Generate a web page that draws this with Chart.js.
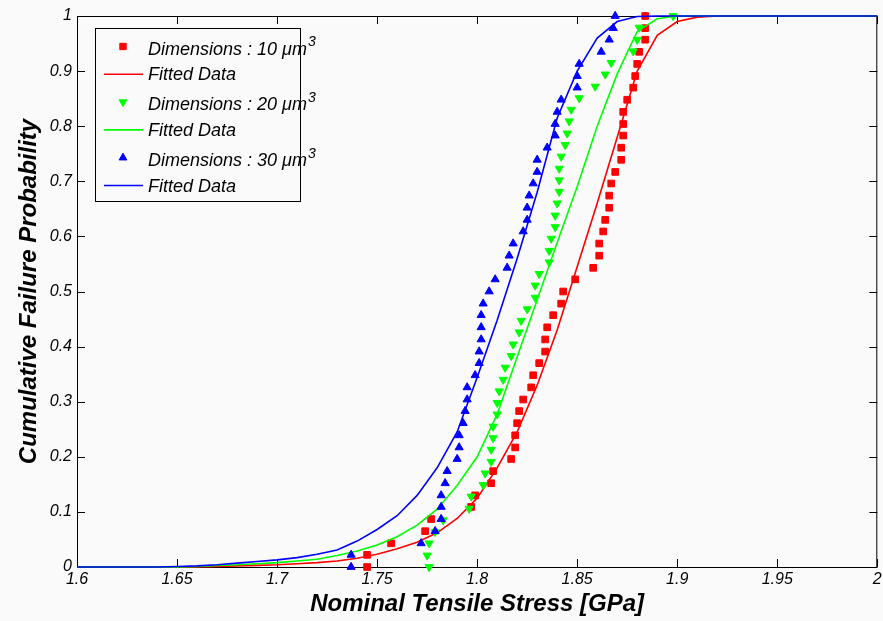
<!DOCTYPE html>
<html>
<head>
<meta charset="utf-8">
<script src="https://cdn.jsdelivr.net/npm/chart.js@4.4.1/dist/chart.umd.min.js"></script>
<style>
	html, body { margin: 0; padding: 0; background: #fafafa; }
	#wrap { width: 883px; height: 621px; }
</style>
</head>
<body>
<div id="wrap"><canvas id="chart" width="883" height="621"></canvas></div>
<script>
	// axis ticks
	const xTicks = [1.6, 1.65, 1.7, 1.75, 1.8, 1.85, 1.9, 1.95, 2];
	const xTickLabels = ["1.6", "1.65", "1.7", "1.75", "1.8", "1.85", "1.9", "1.95", "2"];
	const yTicks = [0, 0.1, 0.2, 0.3, 0.4, 0.5, 0.6, 0.7, 0.8, 0.9, 1];
	const yTickLabels = ["0", "0.1", "0.2", "0.3", "0.4", "0.5", "0.6", "0.7", "0.8", "0.9", "1"];

	// measured samples (stress in GPa)
	const stress10 = [1.745, 1.745, 1.757, 1.774, 1.777, 1.797, 1.799, 1.807, 1.808, 1.817,
		1.819, 1.819, 1.820, 1.821, 1.823, 1.827, 1.828, 1.831, 1.834, 1.834,
		1.835, 1.838, 1.842, 1.843, 1.849, 1.858, 1.861, 1.861, 1.863, 1.864,
		1.866, 1.866, 1.867, 1.869, 1.872, 1.872, 1.873, 1.873, 1.873, 1.875,
		1.878, 1.879, 1.880, 1.881, 1.884, 1.884, 1.884];
	const stress20 = [1.776, 1.775, 1.776, 1.779, 1.783, 1.796, 1.797, 1.803, 1.804, 1.807,
		1.807, 1.808, 1.808, 1.810, 1.810, 1.811, 1.813, 1.814, 1.817, 1.818,
		1.821, 1.822, 1.825, 1.829, 1.829, 1.831, 1.836, 1.836, 1.837, 1.839,
		1.839, 1.840, 1.841, 1.841, 1.841, 1.842, 1.844, 1.845, 1.846, 1.847,
		1.851, 1.859, 1.864, 1.867, 1.878, 1.880, 1.881, 1.898];
	const stress30 = [1.737, 1.737, 1.772, 1.779, 1.782, 1.782, 1.782, 1.784, 1.785, 1.790,
		1.791, 1.791, 1.793, 1.794, 1.795, 1.795, 1.799, 1.801, 1.801, 1.802,
		1.802, 1.802, 1.803, 1.806, 1.809, 1.815, 1.816, 1.818, 1.823, 1.825,
		1.825, 1.826, 1.828, 1.830, 1.830, 1.835, 1.839, 1.839, 1.840, 1.842,
		1.850, 1.850, 1.851, 1.862, 1.866, 1.868, 1.869];

	// cumulative probabilities of the samples
	const prob47 = [0, 0.022, 0.043, 0.065, 0.087, 0.109, 0.130, 0.152, 0.174, 0.196,
		0.217, 0.239, 0.261, 0.283, 0.304, 0.326, 0.348, 0.370, 0.391, 0.413,
		0.435, 0.457, 0.478, 0.500, 0.522, 0.543, 0.565, 0.587, 0.609, 0.630,
		0.652, 0.674, 0.696, 0.717, 0.739, 0.761, 0.783, 0.804, 0.826, 0.848,
		0.870, 0.891, 0.913, 0.935, 0.957, 0.978, 1];
	const prob48 = [0, 0.021, 0.043, 0.064, 0.085, 0.106, 0.128, 0.149, 0.170, 0.191,
		0.213, 0.234, 0.255, 0.277, 0.298, 0.319, 0.340, 0.362, 0.383, 0.404,
		0.426, 0.447, 0.468, 0.489, 0.511, 0.532, 0.553, 0.574, 0.596, 0.617,
		0.638, 0.660, 0.681, 0.702, 0.723, 0.745, 0.766, 0.787, 0.809, 0.830,
		0.851, 0.872, 0.894, 0.915, 0.936, 0.957, 0.979, 1];

	// fitted curves
	const fitStress = [1.60, 1.61, 1.62, 1.63, 1.64, 1.65, 1.66, 1.67, 1.68, 1.69,
		1.70, 1.71, 1.72, 1.73, 1.74, 1.75, 1.76, 1.77, 1.78, 1.79,
		1.80, 1.81, 1.82, 1.83, 1.84, 1.85, 1.86, 1.87, 1.88, 1.89,
		1.90, 1.91, 1.92, 1.93, 1.94, 1.95, 1.96, 1.97, 1.98, 1.99, 2.00];
	const fit10 = [0, 0, 0, 0, 0, 0, 0, 0.001, 0.002, 0.003,
		0.004, 0.006, 0.008, 0.011, 0.016, 0.023, 0.033, 0.045, 0.062, 0.088,
		0.125, 0.18, 0.245, 0.33, 0.43, 0.545, 0.66, 0.78, 0.9, 0.965,
		0.99, 0.998, 1, 1, 1, 1, 1, 1, 1, 1, 1];
	const fit20 = [0, 0, 0, 0, 0, 0, 0.001, 0.003, 0.004, 0.006,
		0.008, 0.011, 0.014, 0.021, 0.029, 0.04, 0.055, 0.076, 0.105, 0.148,
		0.2, 0.277, 0.381, 0.485, 0.589, 0.69, 0.8, 0.895, 0.972, 0.995,
		1, 1, 1, 1, 1, 1, 1, 1, 1, 1, 1];
	const fit30 = [0, 0, 0, 0, 0, 0.001, 0.002, 0.004, 0.007, 0.01,
		0.013, 0.017, 0.023, 0.031, 0.047, 0.068, 0.093, 0.13, 0.18, 0.245,
		0.344, 0.448, 0.56, 0.68, 0.815, 0.9, 0.96, 0.99, 0.999, 1,
		1, 1, 1, 1, 1, 1, 1, 1, 1, 1, 1];

	const seriesLabels = ["Dimensions : 10 \u03bcm", "Fitted Data", "Dimensions : 20 \u03bcm", "Fitted Data", "Dimensions : 30 \u03bcm", "Fitted Data"];

	const FONT = "'Liberation Sans', Arial, sans-serif";

	function toPoints(xs, ys) {
		return xs.map((x, i) => ({ x: x, y: ys[i] }));
	}

	function markers(label, xs, ys, color, style, rotation, order) {
		return {
			label: label,
			data: toPoints(xs, ys),
			showLine: false,
			pointStyle: style,
			rotation: rotation,
			pointRadius: 4.7,
			pointBorderWidth: 1,
			backgroundColor: color,
			borderColor: color,
			clip: false,
			order: order,
		};
	}

	function fitted(label, ys, color, order) {
		return {
			label: label,
			data: toPoints(fitStress, ys),
			showLine: true,
			pointRadius: 0,
			borderWidth: 1.6,
			borderColor: color,
			backgroundColor: color,
			tension: 0,
			clip: false,
			order: order,
		};
	}

	const datasets = [
		markers(seriesLabels[0], stress10, prob47, "#ff0000", "rect", 0, 5),
		fitted(seriesLabels[1], fit10, "#ff0000", 4),
		markers(seriesLabels[2], stress20, prob48, "#00ff00", "triangle", 180, 3),
		fitted(seriesLabels[3], fit20, "#00ff00", 2),
		markers(seriesLabels[4], stress30, prob47, "#0000ff", "triangle", 0, 1),
		fitted(seriesLabels[5], fit30, "#0000ff", 0),
	];

	// MATLAB style box with inward ticks
	const frameTicks = {
		id: "frameTicks",
		beforeDatasetsDraw(chart) {
			const { ctx, chartArea: a, scales } = chart;
			ctx.save();
			ctx.strokeStyle = "#000";
			ctx.lineWidth = 1;
			ctx.strokeRect(a.left + 0.5, a.top + 0.5, a.right - a.left - 1, a.bottom - a.top);
			ctx.beginPath();
			xTicks.forEach((v) => {
				const px = Math.round(scales.x.getPixelForValue(v)) + 0.5;
				ctx.moveTo(px, a.bottom);
				ctx.lineTo(px, a.bottom - 8);
				ctx.moveTo(px, a.top);
				ctx.lineTo(px, a.top + 8);
			});
			yTicks.forEach((v) => {
				const py = Math.round(scales.y.getPixelForValue(v)) + 0.5;
				ctx.moveTo(a.left, py);
				ctx.lineTo(a.left + 8, py);
				ctx.moveTo(a.right, py);
				ctx.lineTo(a.right - 8, py);
			});
			ctx.stroke();
			ctx.restore();
		},
	};

	const boxLegend = {
		id: "boxLegend",
		afterDraw(chart) {
			const ctx = chart.ctx;
			const box = { x: 95.5, y: 28.5, w: 205, h: 173 };
			ctx.save();
			ctx.fillStyle = "#fafafa";
			ctx.fillRect(box.x, box.y, box.w, box.h);
			ctx.strokeStyle = "#000";
			ctx.lineWidth = 1;
			ctx.strokeRect(box.x, box.y, box.w, box.h);

			chart.data.datasets.forEach((ds, i) => {
				const y = box.y + 18 + i * 27.8;
				if (ds.showLine) {
					ctx.strokeStyle = ds.borderColor;
					ctx.lineWidth = 1.6;
					ctx.beginPath();
					ctx.moveTo(104, y);
					ctx.lineTo(143, y);
					ctx.stroke();
				} else {
					ctx.fillStyle = ds.backgroundColor;
					ctx.strokeStyle = ds.borderColor;
					ctx.lineWidth = 1;
					Chart.helpers.drawPoint(ctx, {
						pointStyle: ds.pointStyle,
						rotation: ds.rotation,
						radius: 4.5,
						borderWidth: 1,
					}, 123, y);
				}
				ctx.fillStyle = "#000";
				ctx.textBaseline = "middle";
				ctx.textAlign = "left";
				ctx.font = "italic 18px " + FONT;
				const ty = y + (ds.showLine ? 1 : 3);
				ctx.fillText(ds.label, 148, ty);
				if (!ds.showLine) {
					const w = ctx.measureText(ds.label).width;
					ctx.font = "italic 14px " + FONT;
					ctx.fillText("3", 148 + w + 1, ty - 7);
				}
			});
			ctx.restore();
		},
	};

	const ctx = document.getElementById("chart");
	const chart = new Chart(ctx, {
		type: "scatter",
		data: { datasets: datasets },
		plugins: [frameTicks, boxLegend],
		options: {
			responsive: false,
			devicePixelRatio: 1,
			animation: false,
			layout: { padding: { left: 0, right: 2, top: 16, bottom: 0 } },
			plugins: {
				legend: { display: false },
				tooltip: { enabled: false },
			},
			scales: {
				x: {
					type: "linear",
					min: 1.6,
					max: 2,
					afterBuildTicks: (s) => { s.ticks = xTicks.map((v) => ({ value: v })); },
					afterFit: (s) => { s.height = 54; s.paddingLeft = 0; s.paddingRight = 0; },
					ticks: {
						callback: (v, i) => xTickLabels[i],
						font: { family: FONT, size: 16, style: "italic" },
						color: "#000",
						padding: 3,
						maxRotation: 0,
						autoSkip: false,
					},
					grid: { display: false, drawTicks: false },
					border: { display: false },
					title: {
						display: true,
						text: "Nominal Tensile Stress [GPa]",
						font: { family: FONT, size: 24, weight: "bold", style: "italic" },
						color: "#000",
						padding: { top: 0, bottom: 2 },
					},
				},
				y: {
					type: "linear",
					min: 0,
					max: 1,
					afterBuildTicks: (s) => { s.ticks = yTicks.map((v) => ({ value: v })); },
					afterFit: (s) => { s.width = 77; s.paddingTop = 0; s.paddingBottom = 0; },
					ticks: {
						callback: (v, i) => yTickLabels[i],
						font: { family: FONT, size: 16, style: "italic" },
						color: "#000",
						padding: 5,
						autoSkip: false,
					},
					grid: { display: false, drawTicks: false },
					border: { display: false },
					title: {
						display: true,
						text: "Cumulative Failure Probability",
						font: { family: FONT, size: 24, weight: "bold", style: "italic" },
						color: "#000",
						padding: { top: 15, bottom: 0 },
					},
				},
			},
		},
	});
</script>
</body>
</html>
